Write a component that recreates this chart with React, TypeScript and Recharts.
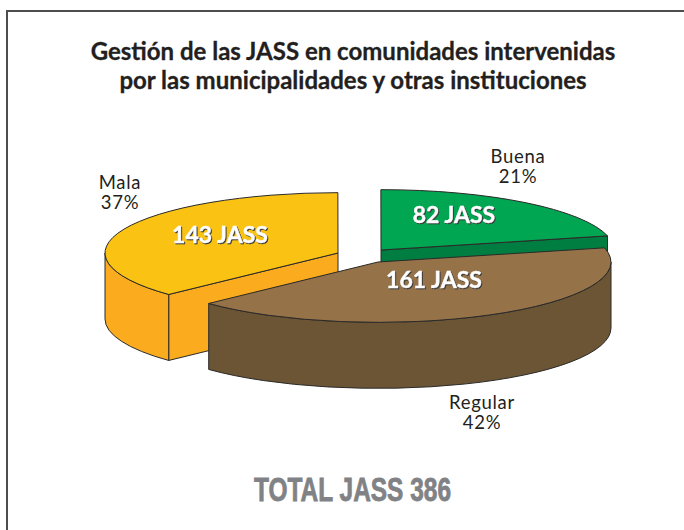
import { PieChart, Pie } from "recharts";

// Values
const names = ["Mala", "Buena", "Regular"];
const jass = [143, 82, 161];
const percents = [37, 21, 42];
const titleLines = [
  "Gestión de las JASS en comunidades intervenidas",
  "por las municipalidades y otras instituciones",
];
const totalLabel = "TOTAL JASS 386";

const topColors = ["#fac213", "#00a651", "#967249"];
const sideColors = ["#fbab1e", "#007d40", "#6b5535"];
// how far each slice is pulled away from the pie centre
const explode = [
  { x: -43, y: -9 },
  { x: 0, y: -12 },
  { x: -3, y: 0 },
];
const valueLabelPos = [
  { x: 220, y: 243 },
  { x: 454, y: 223 },
  { x: 434, y: 288 },
];
const nameLabelPos = [
  { x: 120, y: 189 },
  { x: 518, y: 163 },
  { x: 482, y: 409 },
];

const data = names.map((name, i) => ({ name, value: jass[i] }));

const SQUASH = 0.259;
const DEPTH = 66;
const STROKE = "#2b2a29";

function Slice3D(props: any) {
  const { cx, cy, outerRadius, startAngle, endAngle, index } = props;
  const rx = outerRadius;
  const ry = outerRadius * SQUASH;
  const ox = cx + explode[index].x;
  const oy = cy + explode[index].y;
  const pt = (deg: number, dy = 0) => {
    const r = (deg * Math.PI) / 180;
    return [ox + rx * Math.cos(r), oy - ry * Math.sin(r) + dy];
  };
  const arc = (from: number, to: number, dy = 0, sweep = 1) => {
    const [x, y] = pt(to, dy);
    const large = Math.abs(to - from) > 180 ? 1 : 0;
    return `A${rx} ${ry} 0 ${large} ${sweep} ${x} ${y}`;
  };

  const [sx, sy] = pt(startAngle);
  const [ex, ey] = pt(endAngle);
  const top = `M${ox} ${oy}L${sx} ${sy}${arc(startAngle, endAngle)}Z`;

  const faces: string[] = [];
  // cut faces, only those turned towards the viewer
  const cut = (x: number, y: number) =>
    `M${ox} ${oy}L${x} ${y}L${x} ${y + DEPTH}L${ox} ${oy + DEPTH}Z`;
  if (Math.sin(((startAngle + 90) * Math.PI) / 180) < -0.01) faces.push(cut(sx, sy));
  if (Math.sin(((endAngle - 90) * Math.PI) / 180) < -0.01) faces.push(cut(ex, ey));

  // outer wall: the part of the rim on the front half of the ellipse
  const norm = (a: number) => ((a % 360) + 360) % 360;
  const a0 = norm(startAngle);
  const a1 = a0 - (startAngle - endAngle);
  // walk clockwise, front half is 360..180 (and 0..-180)
  const from = Math.min(a0, a0 > 180 ? a0 : 0);
  const to = Math.max(a1, a0 > 180 ? 180 : -180);
  if (from > to) {
    const [wx0, wy0] = pt(from);
    const [wx1, wy1] = pt(to);
    faces.push(
      `M${wx0} ${wy0}${arc(from, to)}L${wx1} ${wy1 + DEPTH}${arc(to, from, DEPTH, 0)}Z`
    );
  }

  return (
    <g>
      {faces.map((d, i) => (
        <path key={i} d={d} fill={sideColors[index]} stroke={STROKE} strokeWidth={1} strokeLinejoin="round" />
      ))}
      <path d={top} fill={topColors[index]} stroke={STROKE} strokeWidth={1} strokeLinejoin="round" />
    </g>
  );
}

function ValueLabel(props: any) {
  const i = props.index;
  return (
    <text
      x={valueLabelPos[i].x}
      y={valueLabelPos[i].y}
      textAnchor="middle"
      fontFamily="Lato"
      fontWeight={700}
      fontSize={23}
      stroke="#fff"
      strokeWidth={0.4}
      fill="#fff"
      style={{ filter: "drop-shadow(1px 1px 0 #3a3a3a)" }}
    >
      {jass[i]} JASS
    </text>
  );
}

export default function App() {
  return (
    <div style={{ position: "absolute", left: 0, top: 0, width: 684, height: 530, background: "#fff", overflow: "hidden" }}>
      <div
        style={{
          position: "absolute",
          left: 6,
          top: 10,
          width: 700,
          height: 540,
          borderLeft: "2px solid #4d4d4f",
          borderTop: "2px solid #4d4d4f",
        }}
      />
      <div style={{ position: "absolute", left: 0, top: 0 }}>
        <PieChart width={684} height={530} margin={{ top: 0, right: 0, bottom: 0, left: 0 }}>
          <Pie
            data={data}
            dataKey="value"
            nameKey="name"
            cx={381}
            cy={262}
            outerRadius={233}
            startAngle={223.4}
            endAngle={-136.6}
            stroke="none"
            shape={Slice3D}
            label={ValueLabel}
            labelLine={false}
            isAnimationActive={false}
          />
          {titleLines.map((line, i) => (
            <text
              key={line}
              x={353}
              y={60 + i * 28.5}
              textAnchor="middle"
              fontFamily="Lato"
              fontWeight={700}
              fontSize={24}
              stroke="#231f20"
              strokeWidth={0.3}
              fill="#231f20"
            >
              {line}
            </text>
          ))}
          {names.map((name, i) => (
            <text
              key={name}
              x={nameLabelPos[i].x}
              y={nameLabelPos[i].y}
              textAnchor="middle"
              fontFamily="Lato"
              fontSize={18.5}
              letterSpacing={0.7}
              fill="#231f20"
            >
              <tspan x={nameLabelPos[i].x}>{name}</tspan>
              <tspan x={nameLabelPos[i].x} dy={20}>
                {percents[i]}%
              </tspan>
            </text>
          ))}
          <text
            x={352.5}
            y={501}
            textAnchor="middle"
            fontFamily="Liberation Sans"
            fontWeight={700}
            fontSize={33}
            textLength={197}
            lengthAdjust="spacingAndGlyphs"
            stroke="#808285"
            strokeWidth={0.8}
            fill="#808285"
          >
            {totalLabel}
          </text>
        </PieChart>
      </div>
    </div>
  );
}
